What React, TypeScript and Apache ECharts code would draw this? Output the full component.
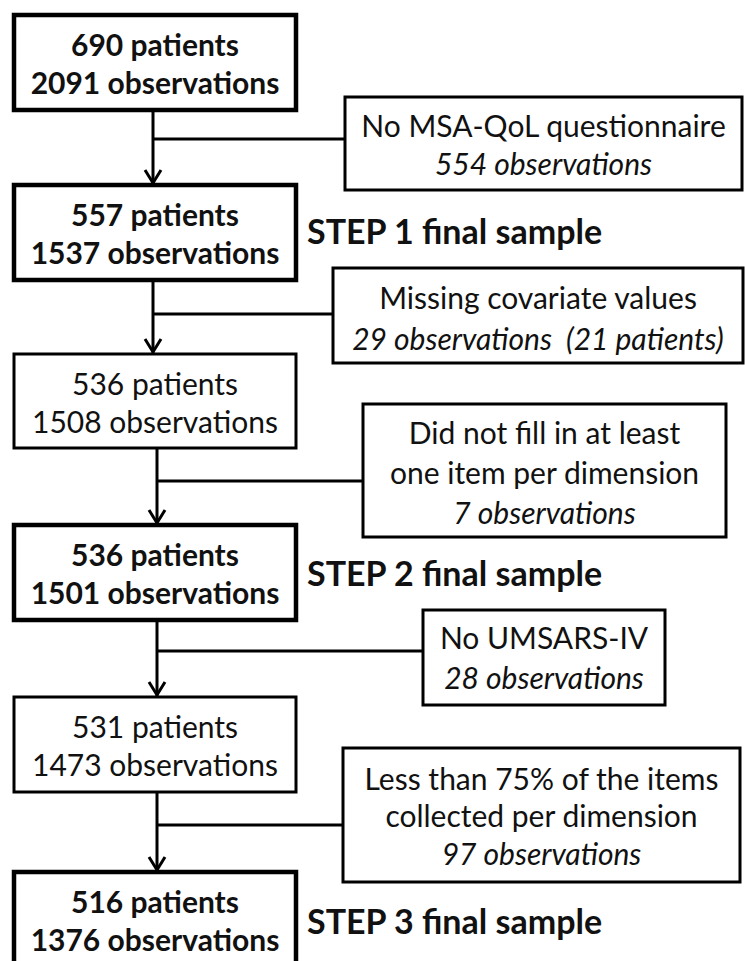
import React, { useEffect, useRef } from "react";
import * as echarts from "echarts";

// ---- data ----
const patients = [690, 557, 536, 536, 531, 516];
const observations = [2091, 1537, 1508, 1501, 1473, 1376];
const isFinalSample = [true, true, false, true, false, true];
const stepLabels = ["STEP 1 final sample", "STEP 2 final sample", "STEP 3 final sample"];
const exclusionReasons = [
  ["No MSA-QoL questionnaire"],
  ["Missing covariate values"],
  ["Did not fill in at least", "one item per dimension"],
  ["No UMSARS-IV"],
  ["Less than 75% of the items", "collected per dimension"],
];
const excludedObservations = [554, 29, 7, 28, 97];
const excludedPatients: (number | null)[] = [null, 21, null, null, null];

// ---- layout ----
const FONT = "Lato, 'Noto Sans', sans-serif";
const BOX_X = 14;
const BOX_W = 282;
const boxTop = [15, 185, 354, 525, 697, 872];
const boxH = [95, 95, 94, 95, 95, 95];
const connX = [153, 153, 157, 157, 157];
const branchY = [139, 314, 481, 651, 825];
const exclBox = [
  [345, 97, 397, 93],
  [333, 268, 410, 95],
  [363, 404, 363, 133],
  [423, 610, 242, 95],
  [343, 748, 397, 134],
];
const exclLineY = [
  [125, 163],
  [297, 338],
  [432, 472, 512],
  [637, 677],
  [778, 815, 853],
];
const stepY = [230, 572, 920];
const STEP_X = 307;
const TEXT_SIZE = 30;
const STEP_SIZE = 34;

function buildGraphic() {
  const els: any[] = [];
  const stroke = "#000";
  // main boxes
  patients.forEach((p, i) => {
    const bold = isFinalSample[i];
    els.push({
      type: "rect",
      shape: { x: BOX_X, y: boxTop[i], width: BOX_W, height: boxH[i] },
      style: { fill: "#fff", stroke, lineWidth: bold ? 4.5 : 3 },
    });
    const lines = [`${p} patients`, `${observations[i]} observations`];
    lines.forEach((t, j) => {
      els.push({
        type: "text",
        x: BOX_X + BOX_W / 2,
        y: boxTop[i] + (j === 0 ? 29 : 67),
        style: {
          text: t,
          fill: "#111",
          font: `${bold ? "bold " : ""}${TEXT_SIZE}px ${FONT}`,
          textAlign: "center",
          textVerticalAlign: "middle",
        },
      });
    });
  });
  // connectors + exclusion boxes
  exclusionReasons.forEach((reason, i) => {
    const x = connX[i];
    const y0 = boxTop[i] + boxH[i];
    const tip = boxTop[i + 1];
    els.push({ type: "line", shape: { x1: x, y1: y0, x2: x, y2: tip - 1 }, style: { stroke, lineWidth: 3 } });
    els.push({
      type: "polyline",
      shape: { points: [[x - 8, tip - 15], [x, tip - 2], [x + 8, tip - 15]] },
      style: { stroke, lineWidth: 3, fill: "none" },
    });
    const [bx, by, bw, bh] = exclBox[i];
    els.push({ type: "line", shape: { x1: x, y1: branchY[i], x2: bx, y2: branchY[i] }, style: { stroke, lineWidth: 3 } });
    els.push({
      type: "rect",
      shape: { x: bx, y: by, width: bw, height: bh },
      style: { fill: "#fff", stroke, lineWidth: 3 },
    });
    const obsText =
      excludedPatients[i] != null
        ? `${excludedObservations[i]} observations  (${excludedPatients[i]} patients)`
        : `${excludedObservations[i]} observations`;
    const lines = [...reason, obsText];
    lines.forEach((t, j) => {
      const italic = j === lines.length - 1;
      els.push({
        type: "text",
        x: bx + bw / 2,
        y: exclLineY[i][j],
        style: {
          text: t,
          fill: "#111",
          font: `${italic ? "italic " : ""}${TEXT_SIZE}px ${FONT}`,
          textAlign: "center",
          textVerticalAlign: "middle",
        },
      });
    });
  });
  // step labels
  stepLabels.forEach((s, i) => {
    els.push({
      type: "text",
      x: STEP_X,
      y: stepY[i],
      style: {
        text: s,
        fill: "#111",
        font: `bold ${STEP_SIZE}px ${FONT}`,
        textAlign: "left",
        textVerticalAlign: "middle",
      },
    });
  });
  return els;
}

export default function App() {
  const ref = useRef<HTMLDivElement>(null);
  useEffect(() => {
    document.body.style.margin = "0";
    if (!ref.current) return;
    const chart = echarts.init(ref.current, undefined, { renderer: "svg" });
    chart.setOption({
      animation: false,
      backgroundColor: "#fff",
      graphic: { elements: buildGraphic() },
    });
    return () => chart.dispose();
  }, []);
  return <div ref={ref} style={{ width: 745, height: 961 }} />;
}
